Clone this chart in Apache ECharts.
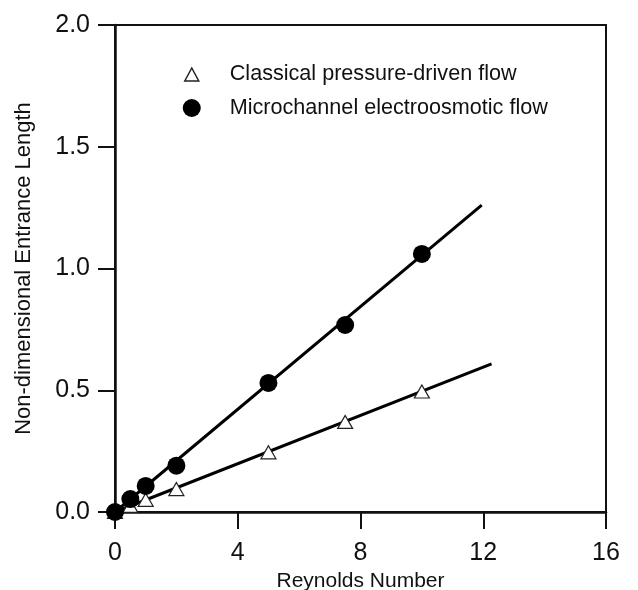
<!DOCTYPE html>
<html><head><meta charset="utf-8">
<script src="https://cdn.jsdelivr.net/npm/echarts@6/dist/echarts.min.js"></script>
<style>html,body{margin:0;padding:0;background:#fff}#c{width:638px;height:590px}</style>
</head><body><div id="c"></div>
<script>
const xTicks = [0, 4, 8, 12, 16];
const yTicks = [0.0, 0.5, 1.0, 1.5, 2.0];
const pressureData = [[0, 0], [0.5, 0.025], [1, 0.05], [2, 0.094], [5, 0.245], [7.5, 0.37], [10, 0.495]];
const electroData = [[0, 0], [0.5, 0.053], [1, 0.107], [2, 0.19], [5, 0.53], [7.5, 0.768], [10, 1.06]];
const pressureFit = [[0, 0], [12.27, 0.608]];
const electroFit = [[0, 0], [11.95, 1.26]];

const chart = echarts.init(document.getElementById('c'), null, {renderer: 'canvas'});
const font = 'Liberation Sans, Arial, sans-serif';
chart.setOption({
  animation: false,
  backgroundColor: '#fff',
  grid: {left: 115, top: 25, right: 32, bottom: 78, outerBoundsMode: 'none', containLabel: false,
         show: true, borderColor: '#111', borderWidth: 2},
  legend: {
    orient: 'vertical', left: 181, top: 63, padding: 0, itemGap: 12, itemWidth: 20, itemHeight: 18,
    textStyle: {fontFamily: font, fontSize: 21.6, color: '#111', padding: [0, 0, 0, 23]},
    data: [
      {name: 'Classical pressure-driven flow', icon: 'path://M0,0M20,18M3,16L10,3L17,16Z', itemStyle: {color: '#fff', borderColor: '#222', borderWidth: 1.5}},
      {name: 'Microchannel electroosmotic flow', icon: 'circle', itemStyle: {color: '#000'}}
    ]
  },
  xAxis: {
    type: 'value', min: xTicks[0], max: xTicks[xTicks.length - 1], interval: 4,
    name: 'Reynolds Number', nameLocation: 'middle', nameGap: 54,
    nameTextStyle: {fontFamily: font, fontSize: 21, color: '#111'},
    axisLine: {lineStyle: {color: '#111', width: 2.5}},
    axisTick: {show: true, inside: false, length: 17, lineStyle: {color: '#111', width: 2}},
    axisLabel: {fontFamily: font, fontSize: 25, color: '#111', margin: 29},
    splitLine: {show: false}
  },
  yAxis: {
    type: 'value', min: yTicks[0], max: yTicks[yTicks.length - 1], interval: 0.5,
    name: 'Non-dimensional Entrance Length', nameLocation: 'middle', nameGap: 80,
    nameTextStyle: {fontFamily: font, fontSize: 22, color: '#111'},
    axisLine: {lineStyle: {color: '#111', width: 2.5}},
    axisTick: {show: true, inside: false, length: 17, lineStyle: {color: '#111', width: 2}},
    axisLabel: {fontFamily: font, fontSize: 25, color: '#111', margin: 25, formatter: v => v.toFixed(1)},
    splitLine: {show: false}
  },
  series: [
    {name: 'fitP', type: 'line', data: pressureFit, symbol: 'none', lineStyle: {color: '#000', width: 3}, z: 2},
    {name: 'fitE', type: 'line', data: electroFit, symbol: 'none', lineStyle: {color: '#000', width: 3}, z: 2},
    {name: 'Classical pressure-driven flow', type: 'scatter', data: pressureData, symbol: 'triangle', symbolSize: [15, 13],
     itemStyle: {color: '#fff', borderColor: '#222', borderWidth: 1.2, opacity: 1}, z: 3},
    {name: 'Microchannel electroosmotic flow', type: 'scatter', data: electroData, symbol: 'circle', symbolSize: 18,
     itemStyle: {color: '#000', opacity: 1}, z: 4}
  ]
});
</script></body></html>
